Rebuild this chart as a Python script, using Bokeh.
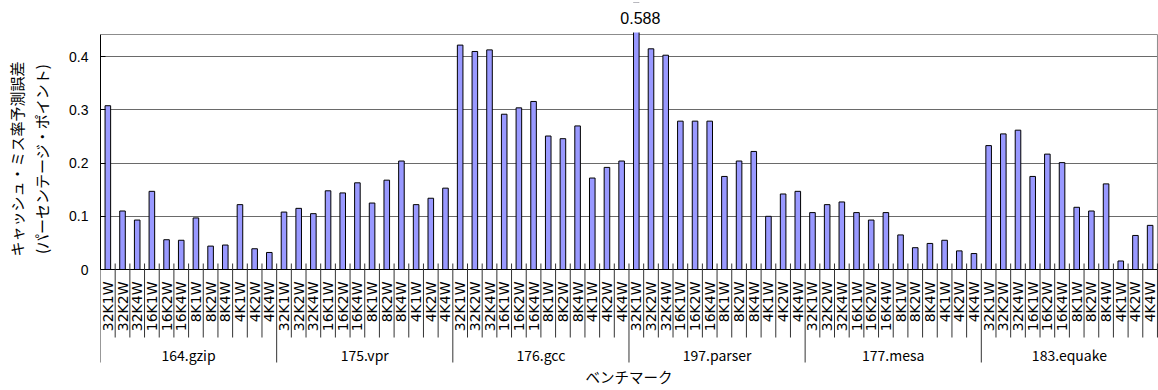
import math

from bokeh.core.properties import value
from bokeh.embed import file_html
from bokeh.models import ColumnDataSource, FixedTicker, Range1d
from bokeh.plotting import figure
from bokeh.resources import INLINE

# ---- data -------------------------------------------------------------
benchmarks = ["164.gzip", "175.vpr", "176.gcc", "197.parser", "177.mesa", "183.equake"]
configs = ["32K1W", "32K2W", "32K4W", "16K1W", "16K2W", "16K4W",
           "8K1W", "8K2W", "8K4W", "4K1W", "4K2W", "4K4W"]

gzip_err = [0.308, 0.110, 0.093, 0.147, 0.056, 0.055, 0.097, 0.044, 0.046, 0.122, 0.039, 0.032]
vpr_err = [0.108, 0.115, 0.105, 0.148, 0.144, 0.163, 0.125, 0.168, 0.204, 0.122, 0.134, 0.153]
gcc_err = [0.422, 0.410, 0.413, 0.292, 0.304, 0.316, 0.251, 0.246, 0.270, 0.172, 0.192, 0.204]
parser_err = [0.588, 0.415, 0.403, 0.279, 0.279, 0.279, 0.175, 0.204, 0.222, 0.100, 0.142, 0.147]
mesa_err = [0.107, 0.122, 0.127, 0.107, 0.093, 0.107, 0.065, 0.041, 0.049, 0.055, 0.035, 0.030]
equake_err = [0.233, 0.255, 0.262, 0.175, 0.217, 0.201, 0.117, 0.110, 0.161, 0.016, 0.064, 0.083]
series = [gzip_err, vpr_err, gcc_err, parser_err, mesa_err, equake_err]

y_ticks = [0, 0.1, 0.2, 0.3, 0.4]
y_tick_labels = ["0", "0.1", "0.2", "0.3", "0.4"]
y_title_lines = ["キャッシュ・ミス率予測誤差", "(パーセンテージ・ポイント)"]
x_title = "ベンチマーク"

# ---- page geometry (canvas pixels) -----------------------------------
W, H = 1158, 390
FRAME_LEFT = 100      # left edge of the plotting area
FRAME_TOP = 2         # top edge of the plotting area
CLIP_ROW = 31         # bars that run off the scale stop here
BOX_TOP = 34          # upper border of the value area
ZERO_ROW = 269        # row of the zero line
SLOT_PX = 14.68       # width of one category slot
UNIT_PX = 531.75      # pixels per 1.0 of error

n_cfg = len(configs)
n_cat = len(benchmarks) * n_cfg


def yv(row):
    """canvas row -> data y"""
    return (ZERO_ROW - row) / UNIT_PX


def xv(col):
    """canvas column -> data x"""
    return (col - FRAME_LEFT) / SLOT_PX


box_top = yv(BOX_TOP)

p = figure(width=W, height=H, output_backend="svg", toolbar_location=None,
           x_range=Range1d(0, xv(W)), y_range=Range1d(yv(H), yv(FRAME_TOP)),
           x_axis_location=None,
           min_border_left=FRAME_LEFT, min_border_right=0,
           min_border_top=FRAME_TOP, min_border_bottom=0)
p.outline_line_color = None
p.background_fill_color = "white"
p.border_fill_color = "white"
p.xgrid.visible = False

# value axis
yax = p.yaxis[0]
yax.ticker = FixedTicker(ticks=y_ticks)
yax.major_label_overrides = dict(zip(y_ticks, y_tick_labels))
yax.bounds = (0, box_top)
yax.axis_line_color = "#000000"
yax.major_tick_line_color = "#000000"
yax.major_tick_in = 5
yax.major_tick_out = 0
yax.minor_tick_line_color = None
yax.major_label_standoff = 12
yax.major_label_text_font = "Liberation Sans"
yax.major_label_text_font_size = "14px"
yax.major_label_text_color = "#000000"
# the title sits over the value area only, so each line is lead in by
# ideographic spaces to lift it above the category-label band
lead = "\u3000" * 5
yax.axis_label = "\n".join(lead + line for line in y_title_lines)
yax.axis_label_text_font = "Noto Sans CJK JP"
yax.axis_label_text_font_size = "15px"
yax.axis_label_text_font_style = "normal"
yax.axis_label_text_color = "#000000"
yax.axis_label_standoff = 14

p.ygrid.ticker = FixedTicker(ticks=y_ticks[1:])
p.ygrid.grid_line_color = "#6a6a6a"
p.ygrid.grid_line_width = 1

# border of the value area (top and right)
p.line(x=[0, n_cat, n_cat], y=[box_top, box_top, 0], line_color="#8c8c8c", line_width=1)

# bars
xs, tops = [], []
for g, vals in enumerate(series):
    for c, v in enumerate(vals):
        xs.append(g * n_cfg + c + 0.5)
        tops.append(v)
src = ColumnDataSource(data=dict(x=xs, top=tops))
p.vbar(x="x", top="top", bottom=0, width=0.38, source=src,
       fill_color="#9999ff", line_color="#000000", line_width=1)

# bars taller than the scale are cut off just above the border
p.quad(left=[-1], right=[xv(W) + 1], bottom=[yv(CLIP_ROW)], top=[yv(-10)],
       fill_color="white", line_color="white", line_width=2)

# category axis: baseline, slot dividers and group dividers
p.segment(x0=[0], y0=[0], x1=[n_cat], y1=[0], line_color="#000000", line_width=1)
bx = list(range(n_cat + 1))
b_top = [yv(ZERO_ROW - 6)] * len(bx)
b_bot = [yv(362) if (i % n_cfg == 0 and i < n_cat) else yv(337) for i in bx]
p.segment(x0=bx, y0=b_top, x1=bx, y1=b_bot, line_color="#333333", line_width=1)

# configuration labels (rotated)
cfg_x = [g * n_cfg + c + 0.5 for g in range(len(benchmarks)) for c in range(n_cfg)]
cfg_text = [cfg for _ in benchmarks for cfg in configs]
p.text(x=cfg_x, y=[yv(281)] * len(cfg_x), text=cfg_text, angle=math.pi / 2,
       text_align="right", text_baseline="middle",
       text_font=value("DejaVu Sans"), text_font_size="14px", text_color="#000000")

# benchmark group labels
grp_x = [g * n_cfg + n_cfg / 2 for g in range(len(benchmarks))]
p.text(x=grp_x, y=[yv(354)] * len(grp_x), text=benchmarks,
       text_align="center", text_baseline="middle",
       text_font=value("Noto Sans CJK JP"), text_font_size="14px", text_color="#000000")

# category axis title
p.text(x=[n_cat / 2], y=[yv(376)], text=[x_title],
       text_align="center", text_baseline="middle",
       text_font=value("Noto Sans CJK JP"), text_font_size="14.5px", text_color="#000000")

# value of the bar that runs off the scale
peak_idx = max(range(len(tops)), key=lambda i: tops[i])
p.text(x=[xs[peak_idx]], y=[yv(17.5)], text=[f"{tops[peak_idx]:.3f}"], x_offset=4,
       text_align="center", text_baseline="middle",
       text_font=value("Liberation Sans"), text_font_size="16px", text_color="#000000")

open("out.html", "w").write(file_html(p, INLINE))
